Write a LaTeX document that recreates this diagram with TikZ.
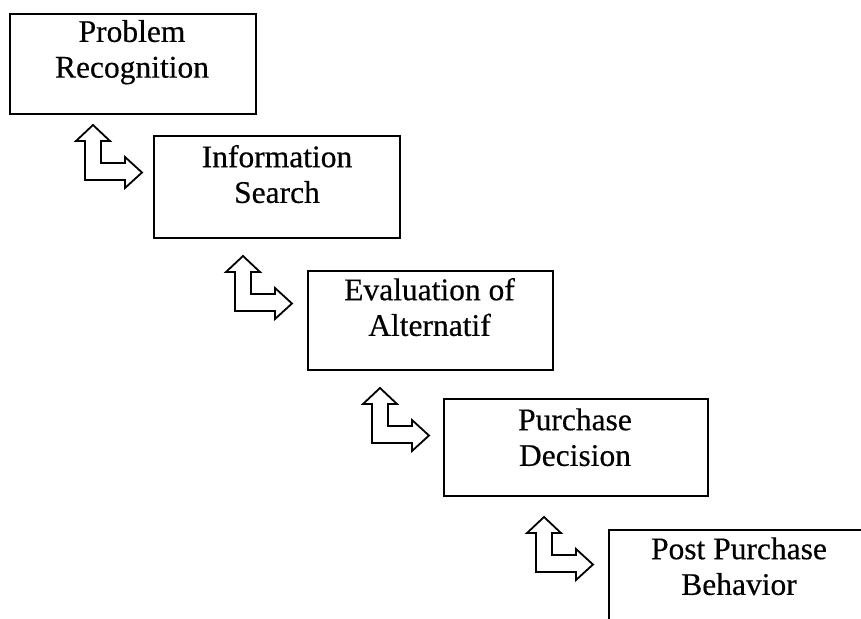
\documentclass[tikz,border=0pt]{standalone}
\usepackage{fontspec}
\setmainfont{Liberation Serif}
\newfontfamily\stagefont[RawFeature={embolden=0.4}]{Liberation Serif}
\newcommand\stagelines[1]{\begin{tabular}{@{}c@{}}#1\end{tabular}}
\tikzset{
  stagebox/.style={draw=black, line width=1.8pt, rectangle, inner sep=0pt, anchor=north west},
  stagetext/.style={inner sep=0pt, anchor=north, font=\stagefont\fontsize{31.5}{35.7}\selectfont},
  arrowline/.style={draw=black, line width=1.8pt, line join=miter, fill=white},
  bentarrow/.pic={
    \path[arrowline] (0,0) -- (17,16) -- (8,16) -- (8,38) -- (32,38) -- (32,32) -- (49,47.5)
      -- (32,63) -- (32,55) -- (-8,55) -- (-8,16) -- (-17,16) -- cycle;
  }
}
\begin{document}
\begin{tikzpicture}[x=1pt, y=-1pt]
\useasboundingbox (0,0) rectangle (861,618);
\clip (0,0) rectangle (861,618);
\fill[white] (0,0) rectangle (861,618);
% boxes
\node[stagebox, minimum width=246pt, minimum height=100pt] (b1) at (9,13) {};
\node[stagebox, minimum width=246pt, minimum height=102pt] (b2) at (153,135) {};
\node[stagebox, minimum width=245pt, minimum height=99pt] (b3) at (307,270) {};
\node[stagebox, minimum width=264pt, minimum height=97pt] (b4) at (443,398) {};
\node[stagebox, minimum width=262pt, minimum height=110pt] (b5) at (608,529) {};
% texts (north = first baseline - 0.7*35.7)
\node[stagetext] (t1) at (132,16.7) {\stagelines{Problem\\Recognition}};
\node[stagetext] (t2) at (277,142) {\stagelines{Information\\Search}};
\node[stagetext] (t3) at (429.5,275) {\stagelines{Evaluation of\\Alternatif}};
\node[stagetext] (t4) at (575,405) {\stagelines{Purchase\\Decision}};
\node[stagetext] (t5) at (739,534) {\stagelines{Post Purchase\\Behavior}};
% bent double arrows
\pic at (93,125) {bentarrow};
\pic at (243,256) {bentarrow};
\pic at (380,388) {bentarrow};
\pic at (544,517) {bentarrow};
\end{tikzpicture}
\end{document}
